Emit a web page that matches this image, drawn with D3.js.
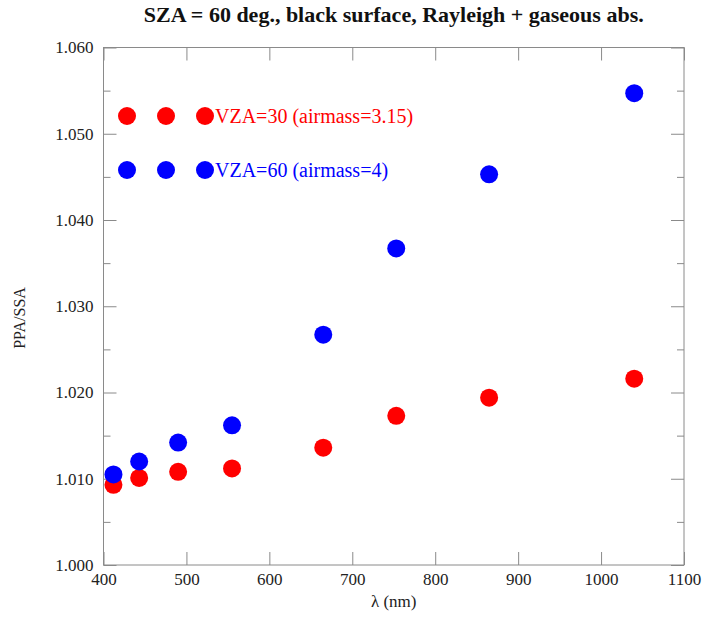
<!DOCTYPE html>
<html>
<head>
<meta charset="utf-8">
<script src="https://cdn.jsdelivr.net/npm/d3@7"></script>
<style>
  html, body { margin: 0; padding: 0; background: #fff; }
  svg { display: block; }
</style>
</head>
<body>
<svg id="chart" width="703" height="618"></svg>
<script>
// ---- data ----
const wavelengths = [412, 443, 490, 555, 665, 753, 865, 1040];
const vza30 = [1.0093, 1.0101, 1.0108, 1.0112, 1.0136, 1.0173, 1.0194, 1.0216];
const vza60 = [1.0105, 1.0120, 1.0142, 1.0162, 1.0267, 1.0367, 1.0453, 1.0547];
const seriesNames = ["VZA=30 (airmass=3.15)", "VZA=60 (airmass=4)"];
const seriesColors = ["#ff0000", "#0000ff"];
const xTicks = [400, 500, 600, 700, 800, 900, 1000, 1100];
const yMajorTicks = [1.000, 1.010, 1.020, 1.030, 1.040, 1.050, 1.060];
const yMinorTicks = [1.005, 1.015, 1.025, 1.035, 1.045, 1.055];
const titleText = "SZA = 60 deg., black surface, Rayleigh + gaseous abs.";
const xLabel = "λ (nm)";
const yLabel = "PPA/SSA";

// ---- layout ----
const svg = d3.select("#chart");
const L = 103.5, R = 684, T = 47.5, B = 565;
const x = d3.scaleLinear().domain([400, 1100]).range([L, R]);
const y = d3.scaleLinear().domain([1.000, 1.060]).range([B, T]);
const axisColor = "#8a8a8a";
const textColor = "#222";
const serif = "'Liberation Serif', 'Times New Roman', serif";

// frame
svg.append("rect").attr("x", L).attr("y", T).attr("width", R - L).attr("height", B - T)
  .attr("fill", "none").attr("stroke", axisColor).attr("stroke-width", 1);

function styleAxis(g) {
  g.select(".domain").remove();
  g.selectAll(".tick line").attr("stroke", axisColor);
  g.selectAll(".tick text").attr("fill", textColor).attr("font-family", serif).attr("font-size", 17);
}

// bottom axis
svg.append("g").attr("transform", `translate(0,${B})`)
  .call(d3.axisBottom(x).tickValues(xTicks).tickFormat(d3.format("d")).tickSizeInner(-13).tickSizeOuter(0).tickPadding(8))
  .call(styleAxis);
// top axis (ticks only)
svg.append("g").attr("transform", `translate(0,${T})`)
  .call(d3.axisTop(x).tickValues(xTicks).tickFormat("").tickSizeInner(-13).tickSizeOuter(0))
  .call(styleAxis);
// left axis majors
svg.append("g").attr("transform", `translate(${L},0)`)
  .call(d3.axisLeft(y).tickValues(yMajorTicks).tickFormat(d3.format(".3f")).tickSizeInner(-13).tickSizeOuter(0).tickPadding(10))
  .call(styleAxis);
svg.append("g").attr("transform", `translate(${L},0)`)
  .call(d3.axisLeft(y).tickValues(yMinorTicks).tickFormat("").tickSizeInner(-7).tickSizeOuter(0))
  .call(styleAxis);
// right axis
svg.append("g").attr("transform", `translate(${R},0)`)
  .call(d3.axisRight(y).tickValues(yMajorTicks).tickFormat("").tickSizeInner(-13).tickSizeOuter(0))
  .call(styleAxis);
svg.append("g").attr("transform", `translate(${R},0)`)
  .call(d3.axisRight(y).tickValues(yMinorTicks).tickFormat("").tickSizeInner(-7).tickSizeOuter(0))
  .call(styleAxis);

// title
svg.append("text").attr("x", (L + R) / 2).attr("y", 22).attr("text-anchor", "middle")
  .attr("font-family", serif).attr("font-weight", "bold").attr("font-size", 22).attr("fill", "#111")
  .text(titleText);
// axis labels
svg.append("text").attr("x", (L + R) / 2).attr("y", 607).attr("text-anchor", "middle")
  .attr("font-family", serif).attr("font-size", 17).attr("fill", textColor).text(xLabel);
svg.append("text").attr("transform", `translate(25,318) rotate(-90)`).attr("text-anchor", "middle")
  .attr("font-family", serif).attr("font-size", 16).attr("fill", textColor).text(yLabel);

// data points
const allSeries = [vza30, vza60];
allSeries.forEach((vals, si) => {
  svg.append("g").selectAll("circle").data(vals).join("circle")
    .attr("cx", (d, i) => x(wavelengths[i]))
    .attr("cy", d => y(d))
    .attr("r", 9)
    .attr("fill", seriesColors[si]);
});

// legend
const legendY = [116, 170];
const legendMarkX = [127, 166, 205];
seriesNames.forEach((name, si) => {
  const g = svg.append("g");
  legendMarkX.forEach(mx => {
    g.append("circle").attr("cx", mx).attr("cy", legendY[si]).attr("r", 9).attr("fill", seriesColors[si]);
  });
  g.append("text").attr("x", 215).attr("y", legendY[si] + 7)
    .attr("font-family", serif).attr("font-size", 20).attr("fill", seriesColors[si]).text(name);
});
</script>
</body>
</html>
